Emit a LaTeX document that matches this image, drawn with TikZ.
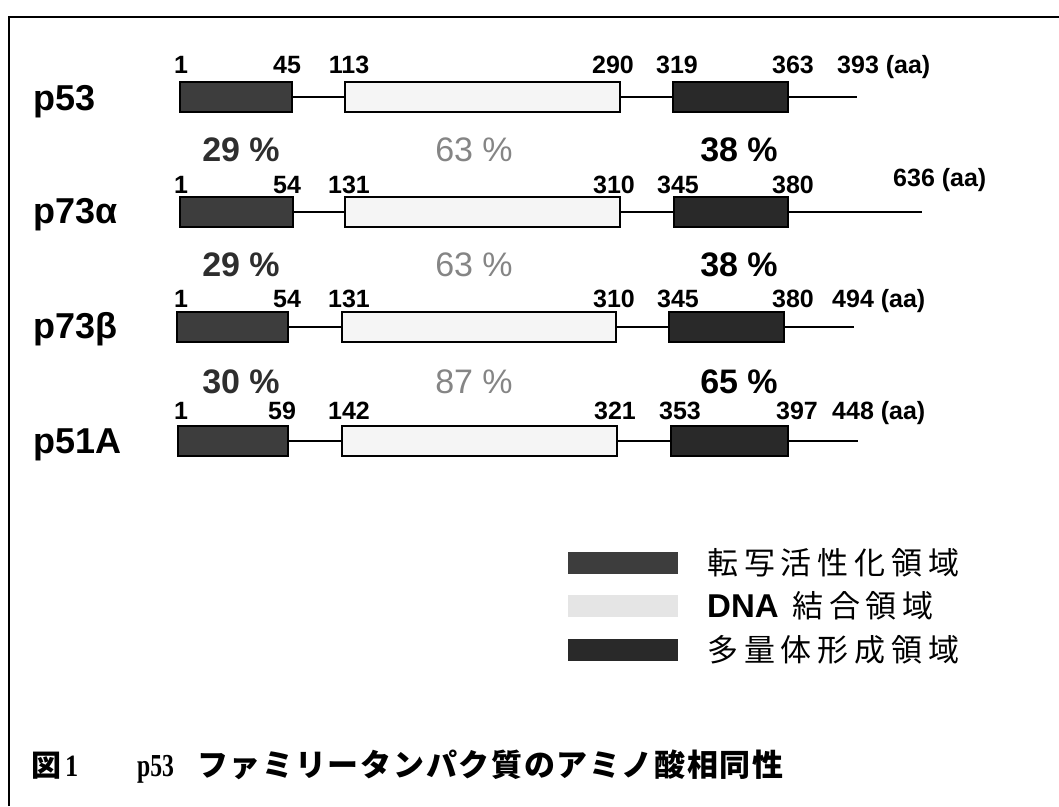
\documentclass[tikz,border=0pt]{standalone}
\usepackage{fontspec}
\setmainfont{Liberation Sans}
\newfontfamily\jp{Noto Sans CJK JP}[LetterSpace=19]
\newfontfamily\jpcap{Noto Sans CJK JP}[LetterSpace=5.5]
\newfontfamily\serifcap{Liberation Serif}
\definecolor{tadcol}{gray}{0.24}
\definecolor{dbdcol}{gray}{0.96}
\definecolor{odcol}{gray}{0.16}
\definecolor{lgdbd}{gray}{0.90}
\definecolor{pctA}{gray}{0.18}
\definecolor{pctB}{gray}{0.52}
\tikzset{
  dom/.style={draw=black, line width=1.6pt, inner sep=0pt, minimum height=30pt, anchor=west},
  tad/.style={dom, fill=tadcol},
  dbd/.style={dom, fill=dbdcol},
  odd/.style={dom, fill=odcol},
  conn/.style={line width=1.8pt},
  num/.style={font=\fontsize{25}{28}\selectfont\bfseries, inner sep=0pt, anchor=base},
  aanum/.style={num, anchor=base west},
  plabel/.style={font=\fontsize{36}{40}\selectfont\bfseries, inner sep=0pt, anchor=base west},
  pcta/.style={font=\fontsize{34}{38}\selectfont\bfseries, text=pctA, inner sep=0pt, anchor=base},
  pctb/.style={font=\fontsize{34}{38}\selectfont, text=pctB, inner sep=0pt, anchor=base},
  pctc/.style={font=\fontsize{34}{38}\selectfont\bfseries, text=black, inner sep=0pt, anchor=base},
  lgbox/.style={inner sep=0pt, minimum width=110pt, minimum height=22pt, anchor=west},
  lgtext/.style={font=\fontsize{31}{34}\selectfont, inner sep=0pt, anchor=west},
  captext/.style={inner sep=0pt, anchor=base west},
  frame/.style={line width=2pt}
}
\begin{document}
\begin{tikzpicture}[x=1pt,y=-1pt]
\useasboundingbox (0,0) rectangle (1059,806);
% frame
\draw[frame] (9,806) -- (9,17) -- (1059,17);

% ---- p53
\node[plabel] (n53) at (33,110) {p53};
\node[tad, minimum width=112pt] (a1) at (179,97) {};
\node[dbd, minimum width=275pt] (a2) at (344,97) {};
\node[odd, minimum width=115pt] (a3) at (672,97) {};
\coordinate (a4) at (857,97);
\draw[conn] (a1) -- (a2);
\draw[conn] (a2) -- (a3);
\draw[conn] (a3) -- (a4);
\node[num] (a1s) at (181,73) {1};
\node[num] (a1e) at (287,73) {45};
\node[num] (a2s) at (349,73) {113};
\node[num] (a2e) at (613,73) {290};
\node[num] (a3s) at (677,73) {319};
\node[num] (a3e) at (793,73) {363};
\node[aanum] (a4e) at (837,73) {393 (aa)};

% ---- percent row 1
\node[pcta] (p1a) at (241,161) {29 \%};
\node[pctb] (p1b) at (474,161) {63 \%};
\node[pctc] (p1c) at (739,161) {38 \%};

% ---- p73 alpha
\node[plabel] (n73a) at (33,223) {p73α};
\node[tad, minimum width=113pt] (b1) at (179,212) {};
\node[dbd, minimum width=275pt] (b2) at (344,212) {};
\node[odd, minimum width=114pt] (b3) at (673,212) {};
\coordinate (b4) at (922,212);
\draw[conn] (b1) -- (b2);
\draw[conn] (b2) -- (b3);
\draw[conn] (b3) -- (b4);
\node[num] (b1s) at (181,193) {1};
\node[num] (b1e) at (287,193) {54};
\node[num] (b2s) at (349,193) {131};
\node[num] (b2e) at (614,193) {310};
\node[num] (b3s) at (678,193) {345};
\node[num] (b3e) at (793,193) {380};
\node[aanum] (b4e) at (893,186) {636 (aa)};

% ---- percent row 2
\node[pcta] (p2a) at (241,276) {29 \%};
\node[pctb] (p2b) at (474,276) {63 \%};
\node[pctc] (p2c) at (739,276) {38 \%};

% ---- p73 beta
\node[plabel] (n73b) at (33,338) {p73β};
\node[tad, minimum width=111pt] (c1) at (176,327) {};
\node[dbd, minimum width=274pt] (c2) at (341,327) {};
\node[odd, minimum width=115pt] (c3) at (668,327) {};
\coordinate (c4) at (854,327);
\draw[conn] (c1) -- (c2);
\draw[conn] (c2) -- (c3);
\draw[conn] (c3) -- (c4);
\node[num] (c1s) at (181,307) {1};
\node[num] (c1e) at (287,307) {54};
\node[num] (c2s) at (349,307) {131};
\node[num] (c2e) at (614,307) {310};
\node[num] (c3s) at (678,307) {345};
\node[num] (c3e) at (793,307) {380};
\node[aanum] (c4e) at (832,307) {494 (aa)};

% ---- percent row 3
\node[pcta] (p3a) at (241,393) {30 \%};
\node[pctb] (p3b) at (474,393) {87 \%};
\node[pctc] (p3c) at (739,393) {65 \%};

% ---- p51A
\node[plabel] (n51) at (33,453) {p51A};
\node[tad, minimum width=110pt] (d1) at (177,441) {};
\node[dbd, minimum width=275pt] (d2) at (341,441) {};
\node[odd, minimum width=117pt] (d3) at (670,441) {};
\coordinate (d4) at (858,441);
\draw[conn] (d1) -- (d2);
\draw[conn] (d2) -- (d3);
\draw[conn] (d3) -- (d4);
\node[num] (d1s) at (181,419) {1};
\node[num] (d1e) at (282,419) {59};
\node[num] (d2s) at (349,419) {142};
\node[num] (d2e) at (615,419) {321};
\node[num] (d3s) at (680,419) {353};
\node[num] (d3e) at (797,419) {397};
\node[aanum] (d4e) at (832,419) {448 (aa)};

% ---- legend
\node[lgbox, fill=tadcol] (l1) at (568,563) {};
\node[lgtext] (t1) at (707,563) {\jp 転写活性化領域};
\node[lgbox, fill=lgdbd] (l2) at (568,606) {};
\node[lgtext] (t2) at (707,606) {\makebox[85pt][l]{\fontsize{33}{36}\selectfont\bfseries DNA}{\jp 結合領域}};
\node[lgbox, fill=odcol] (l3) at (568,650) {};
\node[lgtext] (t3) at (707,650) {\jp 多量体形成領域};

% ---- caption
\node[captext, font=\fontsize{30}{32}\selectfont] (fig) at (31,776) {\jpcap\bfseries 図};
\node[captext, font=\fontsize{31}{34}\selectfont] (fign) at (65,776) {\scalebox{0.85}[1]{\serifcap\bfseries 1}};
\node[captext, font=\fontsize{32}{35}\selectfont] (cap) at (137,776) {\scalebox{0.74}[1]{\serifcap\bfseries p53}};
\node[captext, font=\fontsize{31}{34}\selectfont] (capjp) at (197,776) {\jpcap\bfseries ファミリータンパク質のアミノ酸相同性};
\end{tikzpicture}
\end{document}
